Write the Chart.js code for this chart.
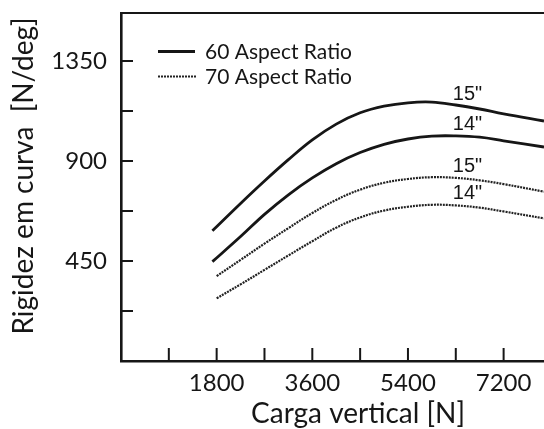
<!DOCTYPE html>
<html>
<head>
<meta charset="utf-8">
<script src="https://cdn.jsdelivr.net/npm/chart.js@4.4.1/dist/chart.umd.min.js"></script>
<style>
  html, body { margin: 0; padding: 0; background: #fff; }
  #chart { display: block; }
</style>
</head>
<body>
<canvas id="chart" width="544" height="429"></canvas>
<script>
// carga vertical [N]
var load60 = [1720, 2250, 2700, 3150, 3600, 4050, 4500, 4950, 5400, 5850, 6300, 6750, 7200, 7960];
var load70 = [1800, 2250, 2700, 3150, 3600, 4050, 4500, 4950, 5400, 5850, 6300, 6750, 7200, 7960];

// rigidez em curva [N/deg]
var ar60_15 = [586, 709, 810, 906, 995, 1066, 1117, 1147, 1162, 1165, 1152, 1134, 1112, 1080];
var ar60_14 = [447, 560, 660, 748, 824, 888, 938, 975, 999, 1012, 1013, 1007, 991, 963];
var ar70_15 = [382, 455, 528, 598, 666, 725, 771, 802, 819, 827, 824, 813, 796, 762];
var ar70_14 = [282, 345, 410, 475, 539, 600, 646, 677, 694, 703, 700, 690, 673, 642];

var rimLabels = ['15"', '14"', '15"', '14"'];
var legendLabels = ['60 Aspect Ratio', '70 Aspect Ratio'];
var xTicks = [0, 900, 1800, 2700, 3600, 4500, 5400, 6300, 7200];
var xTickLabels = [1800, 3600, 5400, 7200];
var yTicks = [0, 225, 450, 675, 900, 1125, 1350];
var yTickLabels = [450, 900, 1350];

var ink = '#161616';
var dotInk = '#222';
var dotted = [2, 1];

function pts(xs, ys) {
  return xs.map(function(x, i){ return {x: x, y: ys[i]}; });
}

function serie(xs, ys, dashed) {
  return {
    data: pts(xs, ys),
    borderColor: dashed ? dotInk : ink,
    borderWidth: dashed ? 2.2 : 2.8,
    borderDash: dashed ? dotted : [],
    pointRadius: 0,
    tension: 0.4,
    fill: false
  };
}

function fixTicks(values) {
  return function(scale){
    scale.ticks = values.map(function(v){ return {value: v}; });
  };
}

function noPad(size, key) {
  return function(s){
    s[key] = size;
    s.paddingTop = 0; s.paddingBottom = 0;
    s.paddingLeft = 0; s.paddingRight = 0;
  };
}

// marcas, rotulos e legenda desenhados por cima
var extras = {
  id: 'extras',
  afterDraw: function(chart){
    var ctx = chart.ctx;
    var a = chart.chartArea;
    var sx = chart.scales.x, sy = chart.scales.y;
    ctx.save();
    ctx.strokeStyle = ink;
    ctx.fillStyle = ink;

    // borda superior
    ctx.lineWidth = 2;
    ctx.beginPath();
    ctx.moveTo(a.left, a.top);
    ctx.lineTo(a.right, a.top);
    ctx.stroke();

    // tracos internos dos eixos
    ctx.lineWidth = 2;
    xTicks.forEach(function(v){
      if (v <= 0) return;
      var px = sx.getPixelForValue(v);
      ctx.beginPath();
      ctx.moveTo(px, a.bottom);
      ctx.lineTo(px, a.bottom - 13);
      ctx.stroke();
    });
    yTicks.forEach(function(v){
      if (v <= 0) return;
      var py = sy.getPixelForValue(v);
      ctx.beginPath();
      ctx.moveTo(a.left, py);
      ctx.lineTo(a.left + 12, py);
      ctx.stroke();
    });

    // rotulos dos aros
    var labelY = [1174, 1040, 852, 729];
    ctx.font = '20px "Liberation Sans", Arial, sans-serif';
    ctx.textAlign = 'center';
    ctx.textBaseline = 'alphabetic';
    rimLabels.forEach(function(txt, i){
      ctx.fillText(txt, sx.getPixelForValue(6520), sy.getPixelForValue(labelY[i]));
    });

    // legenda
    ctx.font = '21px Lato, sans-serif';
    ctx.textAlign = 'left';
    ctx.lineWidth = 2.8;
    ctx.beginPath();
    ctx.moveTo(158, 51.5);
    ctx.lineTo(195, 51.5);
    ctx.stroke();
    ctx.fillText(legendLabels[0], 205, 58.5);
    ctx.strokeStyle = dotInk;
    ctx.lineWidth = 2.2;
    ctx.setLineDash(dotted);
    ctx.beginPath();
    ctx.moveTo(158, 76.5);
    ctx.lineTo(197, 76.5);
    ctx.stroke();
    ctx.setLineDash([]);
    ctx.fillText(legendLabels[1], 205, 83.5);

    // titulos dos eixos
    ctx.font = '28px Lato, sans-serif';
    ctx.textAlign = 'center';
    ctx.fillText('Carga vertical [N]', 358, 423);
    ctx.translate(33, 176);
    ctx.rotate(-Math.PI / 2);
    ctx.fillText('Rigidez em curva  [N/deg]', 0, 0);
    ctx.restore();
  }
};

var tickFont = {family: 'Lato', size: 24};

var chart = new Chart(document.getElementById('chart'), {
  type: 'line',
  data: {
    datasets: [
      serie(load60, ar60_15, false),
      serie(load60, ar60_14, false),
      serie(load70, ar70_15, true),
      serie(load70, ar70_14, true)
    ]
  },
  options: {
    responsive: false,
    animation: false,
    devicePixelRatio: 1,
    layout: {padding: {top: 13, left: 0, right: 0, bottom: 0}},
    plugins: {legend: {display: false}, tooltip: {enabled: false}},
    scales: {
      x: {
        type: 'linear',
        min: 0,
        max: 7960,
        grid: {display: false},
        border: {display: true, color: ink, width: 2.6},
        afterBuildTicks: fixTicks(xTicks),
        ticks: {
          color: ink,
          font: tickFont,
          padding: 0,
          maxRotation: 0,
          autoSkip: false,
          callback: function(v){ return xTickLabels.indexOf(v) >= 0 ? String(v) : ''; }
        },
        afterFit: noPad(68, 'height')
      },
      y: {
        min: 0,
        max: 1566,
        grid: {display: false},
        border: {display: true, color: ink, width: 2.6},
        afterBuildTicks: fixTicks(yTicks),
        ticks: {
          color: ink,
          font: tickFont,
          padding: 6,
          autoSkip: false,
          callback: function(v){ return yTickLabels.indexOf(v) >= 0 ? String(v) : ''; }
        },
        afterFit: noPad(121, 'width')
      }
    }
  },
  plugins: [extras]
});
</script>
</body>
</html>
